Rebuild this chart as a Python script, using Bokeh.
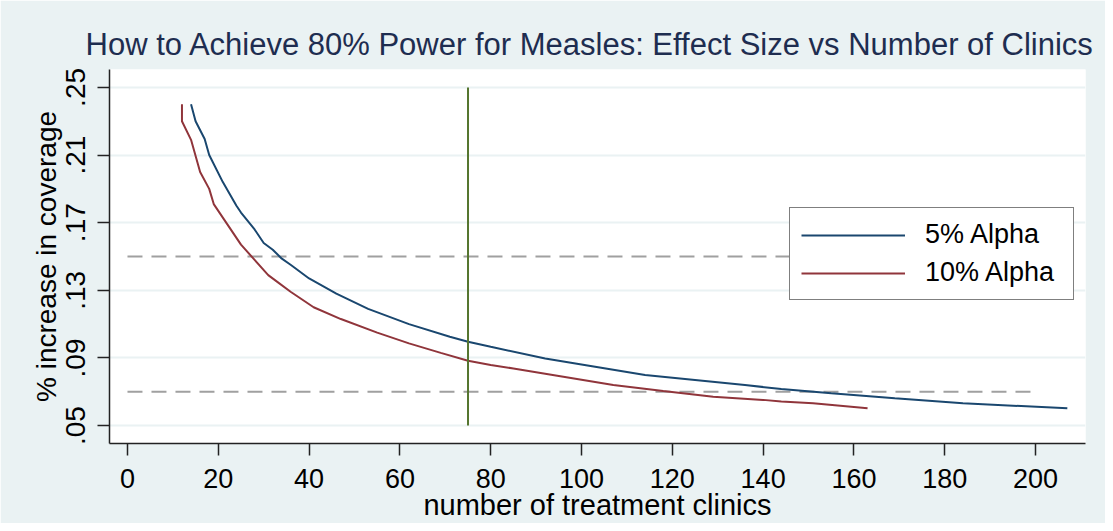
from bokeh.plotting import figure
from bokeh.models import Legend, LegendItem, CustomJSTickFormatter, FixedTicker
from bokeh.embed import file_html
from bokeh.resources import INLINE

# ---- data ----
alpha5_n = [14, 15, 17, 18, 21, 24, 25, 28, 30, 32, 34, 36, 40, 46, 53, 62, 71, 75, 80,
            92, 103, 114, 125, 136, 144, 155, 169, 184, 207]
alpha5_v = [0.240, 0.230, 0.2195, 0.210, 0.194, 0.180, 0.176, 0.166, 0.158, 0.154, 0.1487,
            0.145, 0.137, 0.128, 0.119, 0.110, 0.1025, 0.0996, 0.0966,
            0.0897, 0.0848, 0.0799, 0.0770, 0.0740, 0.0716, 0.0691, 0.0661, 0.0632, 0.0602]

alpha10_n = [12, 12, 14, 16, 18, 19, 22, 25, 28, 31, 33, 36, 41, 47, 55, 62, 69, 75, 80,
             85, 96, 107, 118, 129, 140, 144, 151, 163]
alpha10_v = [0.240, 0.230, 0.219, 0.200, 0.190, 0.181, 0.169, 0.157, 0.148, 0.139, 0.135,
             0.129, 0.120, 0.113, 0.105, 0.0986, 0.093, 0.0883, 0.0858,
             0.0838, 0.0789, 0.0740, 0.0705, 0.0671, 0.0652, 0.0642, 0.0632, 0.0602]

target_y = [0.15, 0.07]          # dashed reference lines
target_x = [0, 200]
clinics_mark_x = 75              # vertical reference line
clinics_mark_y = [0.05, 0.25]

x_ticks = [0, 20, 40, 60, 80, 100, 120, 140, 160, 180, 200]
y_ticks = [0.05, 0.09, 0.13, 0.17, 0.21, 0.25]

title_text = "How to Achieve 80% Power for Measles: Effect Size vs Number of Clinics"
x_label = "number of treatment clinics"
y_label = "% increase in coverage"
series_names = ["5% Alpha", "10% Alpha"]

# ---- styling ----
FONT = "Liberation Sans"
BG = "#EAF2F3"
NAVY = "#1A476F"
MAROON = "#90353B"
GREEN = "#55752F"

p = figure(width=1105, height=523,
           x_range=(-3.96, 211.0), y_range=(0.0394, 0.2606),
           output_backend="svg", toolbar_location=None,
           min_border_left=109, min_border_right=20,
           min_border_top=69, min_border_bottom=79)

p.background_fill_color = "white"
p.border_fill_color = BG
p.outline_line_color = None

p.title.text = title_text
p.title.text_font = FONT
p.title.text_font_size = "31px"
p.title.text_font_style = "normal"
p.title.text_color = "#1E2D50"
p.title.align = "left"
p.title.offset = -24
p.title.standoff = 15

# axes
for ax in (p.xaxis[0], p.yaxis[0]):
    ax.axis_line_color = "#222222"
    ax.axis_line_width = 1.5
    ax.major_tick_line_color = "#222222"
    ax.major_tick_line_width = 1.5
    ax.major_tick_in = 0
    ax.major_tick_out = 12
    ax.minor_tick_line_color = None
    ax.major_label_text_font = FONT
    ax.major_label_text_color = "black"
    ax.axis_label_text_font = FONT
    ax.axis_label_text_font_style = "normal"
    ax.axis_label_text_color = "black"

p.xaxis.ticker = FixedTicker(ticks=x_ticks)
p.xaxis.axis_label = x_label
p.xaxis.major_label_text_font_size = "27px"
p.xaxis.axis_label_text_font_size = "29px"
p.xaxis.major_label_standoff = 13
p.xaxis.axis_label_standoff = -2

p.yaxis.ticker = FixedTicker(ticks=y_ticks)
p.yaxis.formatter = CustomJSTickFormatter(code="return tick.toFixed(2).replace(/^0/, '');")
p.yaxis.major_label_orientation = "vertical"
p.yaxis.axis_label = y_label
p.yaxis.major_label_text_font_size = "28px"
p.yaxis.axis_label_text_font_size = "28px"
p.yaxis.major_label_standoff = 12
p.yaxis.axis_label_standoff = 2

p.xgrid.grid_line_color = None
p.ygrid.grid_line_color = BG
p.ygrid.grid_line_width = 2

# reference lines
for ty in target_y:
    p.line(x=target_x, y=[ty, ty], line_color="#A0A0A0", line_width=2, line_dash="15 9")

r5 = p.line(x=alpha5_n, y=alpha5_v, line_color=NAVY, line_width=2)
r10 = p.line(x=alpha10_n, y=alpha10_v, line_color=MAROON, line_width=2)

p.line(x=[clinics_mark_x, clinics_mark_x], y=clinics_mark_y, line_color=GREEN, line_width=2)

legend = Legend(items=[LegendItem(label=series_names[0], renderers=[r5]),
                       LegendItem(label=series_names[1], renderers=[r10])],
                location=(680, 143))
legend.border_line_color = "black"
legend.border_line_width = 1
legend.background_fill_color = "white"
legend.background_fill_alpha = 1
legend.label_text_font = FONT
legend.label_text_font_size = "27px"
legend.label_text_color = "black"
legend.glyph_width = 104
legend.glyph_height = 30
legend.label_height = 30
legend.label_width = 137
legend.label_standoff = 20
legend.padding = 11
legend.spacing = 7
legend.margin = 0
p.add_layout(legend)

open("out.html", "w").write(file_html(p, INLINE))
